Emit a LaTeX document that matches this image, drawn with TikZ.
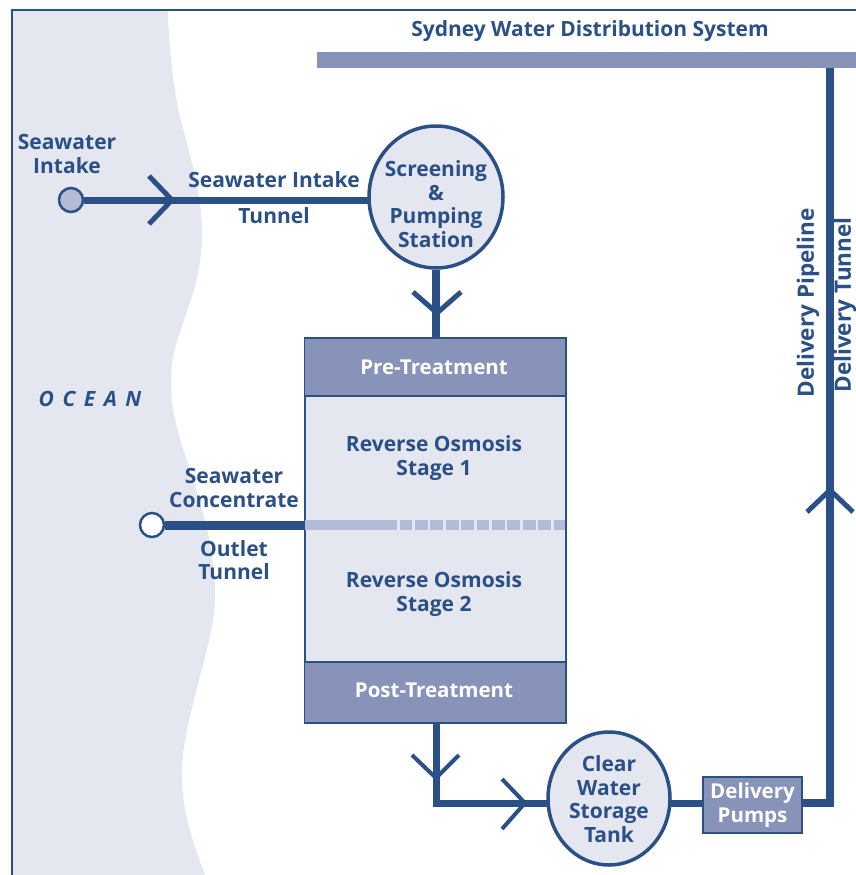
\documentclass[tikz,border=0pt]{standalone}
\usepackage{fontspec}
\setmainfont{Open Sans}
\usetikzlibrary{calc,shapes.geometric}
\definecolor{navy}{HTML}{2B5086}
\definecolor{barblue}{HTML}{8793B8}
\definecolor{sea}{HTML}{E4E6F0}
\definecolor{dashblue}{HTML}{B3BCD6}
\pgfdeclarelayer{oceanlayer}
\pgfdeclarelayer{pipelayer}
\pgfsetlayers{oceanlayer,pipelayer,main}
\tikzset{
  lab/.style={font=\bfseries\fontsize{21}{23.5}\selectfont,text=navy,align=center,inner sep=0pt},
  whitelab/.style={font=\bfseries\fontsize{20.5}{23.5}\selectfont,text=white,align=center,inner sep=0pt},
  sidelab/.style={font=\bfseries\fontsize{22.5}{24}\selectfont,text=navy,inner sep=0pt,rotate=90},
  band/.style={draw=navy,line width=1.5pt,fill=barblue,inner sep=0pt,minimum width=261pt},
  panel/.style={draw=navy,line width=2pt,fill=sea,inner sep=0pt,minimum width=261pt},
  station/.style={draw=navy,line width=3.5pt,fill=sea,ellipse,inner sep=0pt},
  port/.style={draw=navy,line width=2.5pt,circle,minimum size=24pt,inner sep=0pt},
  pipe/.style={draw=navy,line width=7pt},
  chev/.style={draw=navy,line width=5pt,line join=miter},
}
\begin{document}
\begin{tikzpicture}[x=1pt,y=-1pt]
\useasboundingbox (0,0) rectangle (856,875);
\begin{pgfonlayer}{oceanlayer}
\fill[white] (0,0) rectangle (856,875);
\fill[sea] (13,10) -- (168,10) -- (168,11)
  .. controls (168,35) and (173,90) .. (180,117)
  .. controls (186,142) and (202,190) .. (202,233)
  .. controls (202,280) and (186,310) .. (176,345)
  .. controls (170,365) and (168,395) .. (178,432)
  .. controls (186,462) and (215,530) .. (215,595)
  .. controls (215,640) and (192,690) .. (183,754)
  .. controls (178,800) and (190,835) .. (205,875)
  -- (13,875) -- cycle;
\draw[navy,line width=2pt] (856,10) -- (12,10) -- (12,875);
\end{pgfonlayer}
% top bar
\node[fill=barblue,inner sep=0pt,minimum width=539pt,minimum height=16pt] (bar) at (586.5,60) {};
\node[lab] (sydney) at (590,31) {Sydney Water Distribution System};
% coordinates
\coordinate (barjoin) at (830,60);
\coordinate (pipecorner) at (830,803);
\coordinate (tankcorner) at (436,803);
\coordinate (pipetick) at (830,490);
\coordinate (intaketick) at (172,200);
\coordinate (screentick) at (437,313);
\coordinate (posttick) at (436,778);
\coordinate (tanktick) at (525,803);
\coordinate (outletsplit) at (304,525);
\coordinate (dashstart) at (305,525);
\coordinate (dashsolid) at (397,525);
\coordinate (dashend) at (565,525);
% nodes
\node[panel,minimum height=385pt] (plant) at (435,530.5) {};
\node[band,minimum height=58pt] (pre) at (435,367) {};
\node[band,minimum height=61pt] (post) at (435,692.5) {};
\node[whitelab] (pretext) at (434,367) {Pre-Treatment};
\node[whitelab] (posttext) at (434,690) {Post-Treatment};
\node[lab] (ro1) at (434,458) {Reverse Osmosis\\Stage 1};
\node[lab] (ro2) at (434,594) {Reverse Osmosis\\Stage 2};
\draw[dashblue,line width=10pt] (dashstart) -- (dashsolid);
\draw[dashblue,line width=10pt,dash pattern=on 12.8pt off 2.6pt] ($(dashsolid)+(2.6,0)$) -- (dashend);
\node[port,fill=dashblue] (intake) at (71,200) {};
\node[port,fill=white] (outlet) at (152,525) {};
\node[station,minimum width=134pt,minimum height=142pt] (screen) at (436,197) {};
\node[station,minimum width=122pt,minimum height=133pt] (tank) at (609,798.5) {};
\node[draw=navy,line width=1.5pt,fill=barblue,inner sep=0pt,minimum width=99pt,minimum height=56pt] (pumps) at (752.5,805) {};
% pipes under the nodes
\begin{pgfonlayer}{pipelayer}
\draw[pipe] (intake) -- (intake -| screen);
\draw[pipe,line width=8.5pt] (screen) -- (screen |- pre);
\draw[pipe,line width=9pt] (outlet) -- (outletsplit);
\draw[pipe,line cap=rect] (tankcorner |- post) -- (tankcorner) -- (tankcorner -| tank);
\draw[pipe] (tankcorner -| tank) -- (tankcorner -| pumps);
\draw[pipe,line width=8pt,line cap=rect] (tankcorner -| pumps) -- (pipecorner) -- (barjoin);
\end{pgfonlayer}
% chevrons
\draw[chev] ($(intaketick)+(-23,-24)$) -- (intaketick) -- ($(intaketick)+(-23,24)$);
\draw[chev] ($(screentick)+(-24,-21)$) -- (screentick) -- ($(screentick)+(24,-21)$);
\draw[chev,line width=4pt] ($(posttick)+(-24,-23)$) -- (posttick) -- ($(posttick)+(23,-23)$);
\draw[chev,line width=4pt] ($(tanktick)+(-23,-24)$) -- (tanktick) -- ($(tanktick)+(-23,26)$);
\draw[chev] ($(pipetick)+(-23,22)$) -- (pipetick) -- ($(pipetick)+(23,22)$);
% labels
\node[lab] (intakelabel) at (67,154) {Seawater\\Intake};
\node[lab] (tunnellabel) at (274,180) {Seawater Intake};
\node[lab] (tunnelb) at (274,216) {Tunnel};
\node[lab] (screenlabel) at (436,204) {Screening\\\&\\Pumping\\Station};
\node[lab] (tanklabel) at (609,799) {Clear\\Water\\Storage\\Tank};
\node[whitelab] (pumplabel) at (752.5,805) {Delivery\\Pumps};
\node[lab] (concentrate) at (234,488) {Seawater\\Concentrate};
\node[lab] (outletlabel) at (234,560) {Outlet\\Tunnel};
\node[sidelab] (pipelinelabel) at (808,303) {Delivery Pipeline};
\node[sidelab] (deltunnel) at (845,305) {Delivery Tunnel};
\node[lab,font=\bfseries\itshape\fontsize{21}{24}\selectfont] (oceanlabel) at (90,399) {O\hspace{8.5pt}C\hspace{8.5pt}E\hspace{8.5pt}A\hspace{8.5pt}N};
\end{tikzpicture}
\end{document}
